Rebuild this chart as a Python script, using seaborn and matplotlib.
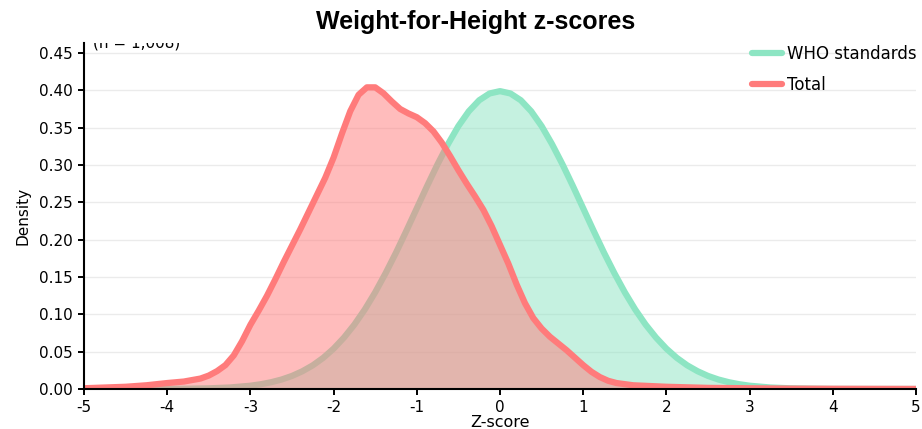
import pandas as pd
import numpy as np
import matplotlib
matplotlib.use('Agg')
import matplotlib.pyplot as plt
import seaborn as sns

# WHO reference curve
who_z = [-5.0, -4.5, -4.0, -3.75, -3.5, -3.25,
         -3.0, -2.875, -2.75, -2.625, -2.5, -2.375, -2.25, -2.125, -2.0, -1.875, -1.75, -1.625,
         -1.5, -1.375, -1.25, -1.125, -1.0, -0.875, -0.75, -0.625, -0.5, -0.375, -0.25, -0.125,
         0.0, 0.125, 0.25, 0.375, 0.5, 0.625, 0.75, 0.875, 1.0, 1.125, 1.25, 1.375,
         1.5, 1.625, 1.75, 1.875, 2.0, 2.125, 2.25, 2.375, 2.5, 2.625, 2.75, 2.875, 3.0,
         3.25, 3.5, 3.75, 4.0, 4.5, 5.0]
who_density = [0.0, 0.0, 0.0001, 0.0004, 0.0009, 0.002,
               0.0044, 0.0064, 0.0091, 0.0127, 0.0175, 0.0238, 0.0317, 0.0417, 0.054, 0.0689, 0.0863, 0.1065,
               0.1295, 0.1551, 0.1826, 0.2119, 0.242, 0.2721, 0.3011, 0.328, 0.3521, 0.3719, 0.3867, 0.3958,
               0.3989, 0.3958, 0.3867, 0.3719, 0.3521, 0.328, 0.3011, 0.2721, 0.242, 0.2119, 0.1826, 0.1551,
               0.1295, 0.1065, 0.0863, 0.0689, 0.054, 0.0417, 0.0317, 0.0238, 0.0175, 0.0127, 0.0091, 0.0064, 0.0044,
               0.002, 0.0009, 0.0004, 0.0001, 0.0, 0.0]

# sample curve
total_z = [-5.0, -4.75, -4.5, -4.25, -4.0, -3.8, -3.6, -3.5, -3.4, -3.3, -3.2, -3.1,
           -3.0, -2.9, -2.8, -2.7, -2.6, -2.5, -2.4, -2.3, -2.2, -2.1,
           -2.0, -1.9, -1.8, -1.7, -1.6, -1.5, -1.4, -1.3, -1.2, -1.1,
           -1.0, -0.9, -0.8, -0.7, -0.6, -0.5, -0.4, -0.3, -0.2, -0.1,
           0.0, 0.1, 0.2, 0.3, 0.4, 0.5, 0.6, 0.7, 0.8, 0.9,
           1.0, 1.1, 1.2, 1.3, 1.4, 1.6, 1.8, 2.0, 2.5, 3.0, 3.5, 4.0, 4.5, 5.0]
total_density = [0.001, 0.002, 0.003, 0.005, 0.008, 0.010, 0.014, 0.018, 0.024, 0.032, 0.045, 0.064,
                 0.086, 0.105, 0.125, 0.147, 0.170, 0.192, 0.214, 0.237, 0.260, 0.283,
                 0.310, 0.342, 0.372, 0.394, 0.404, 0.404, 0.396, 0.385, 0.375, 0.369,
                 0.364, 0.356, 0.345, 0.330, 0.312, 0.293, 0.275, 0.258, 0.240, 0.218,
                 0.193, 0.168, 0.140, 0.115, 0.095, 0.081, 0.070, 0.061, 0.052, 0.042,
                 0.032, 0.023, 0.016, 0.011, 0.008, 0.005, 0.004, 0.003, 0.0015, 0.001, 0.0005, 0.0003, 0.0002, 0.0001]

x_ticks = [-5, -4, -3, -2, -1, 0, 1, 2, 3, 4, 5]
y_ticks = [0.0, 0.05, 0.10, 0.15, 0.20, 0.25, 0.30, 0.35, 0.40, 0.45]

df_who = pd.DataFrame({'z': who_z, 'density': who_density})
df_total = pd.DataFrame({'z': total_z, 'density': total_density})

green = '#8de5c3'
red = '#ff7b7b'

sns.set_style('white')
plt.rcParams['font.family'] = ['DejaVu Sans']
plt.rcParams['text.color'] = 'black'
plt.rcParams['axes.labelcolor'] = 'black'
plt.rcParams['xtick.color'] = 'black'
plt.rcParams['ytick.color'] = 'black'

fig = plt.figure(figsize=(9.22, 4.29), dpi=100)
ax = fig.add_axes([84/922, 1-389/429, 832/922, (389-43)/429])

# 网格
for y in y_ticks[1:]:
    ax.axhline(y, color='#ebebeb', lw=1.0, zorder=0)

ax.fill_between(df_who['z'], df_who['density'], color=green, alpha=0.5, lw=0, zorder=1)
sns.lineplot(data=df_who, x='z', y='density', color=green, lw=4.5, ax=ax, zorder=2,
             solid_joinstyle='round', solid_capstyle='butt')
ax.fill_between(df_total['z'], df_total['density'], color=red, alpha=0.5, lw=0, zorder=3)
sns.lineplot(data=df_total, x='z', y='density', color=red, lw=4.5, ax=ax, zorder=4,
             solid_joinstyle='round', solid_capstyle='butt')

ax.set_xlim(-5, 5)
ax.set_ylim(0, (389-43)/746.7)
ax.set_xticks(x_ticks)
ax.set_xticklabels([str(v) for v in x_ticks])
ax.set_yticks(y_ticks)
ax.set_yticklabels(['%.2f' % v for v in y_ticks])
ax.tick_params(axis='both', direction='out', length=4, width=1.4, color='black',
               labelsize=11, pad=4, bottom=True, left=True)
for s in ['top', 'right']:
    ax.spines[s].set_visible(False)
for s in ['left', 'bottom']:
    ax.spines[s].set_color('black')
    ax.spines[s].set_linewidth(1.5)
    ax.spines[s].set_zorder(5)

ax.set_xlabel('Z-score', fontsize=11.5, labelpad=0)
ax.set_ylabel('Density', fontsize=11, labelpad=6)

ax.text(-4.89, 0.458, '(n = 1,008)', fontsize=11, va='baseline', ha='left', clip_on=True)

fig.text(476/922, 1-22/429, 'Weight-for-Height z-scores', ha='center', va='center',
         fontsize=18, fontweight='bold', family=['Liberation Sans', 'DejaVu Sans'])

handles = [plt.Line2D([], [], color=green, lw=4.5), plt.Line2D([], [], color=red, lw=4.5)]
fig.legend(handles, ['WHO standards', 'Total'], loc='upper left',
           bbox_to_anchor=(752/922, 1-45/429), frameon=False, fontsize=12,
           handlelength=1.8, handletextpad=0.3, labelspacing=0.75,
           borderpad=0, borderaxespad=0)

fig.savefig('out.png', dpi=100)
